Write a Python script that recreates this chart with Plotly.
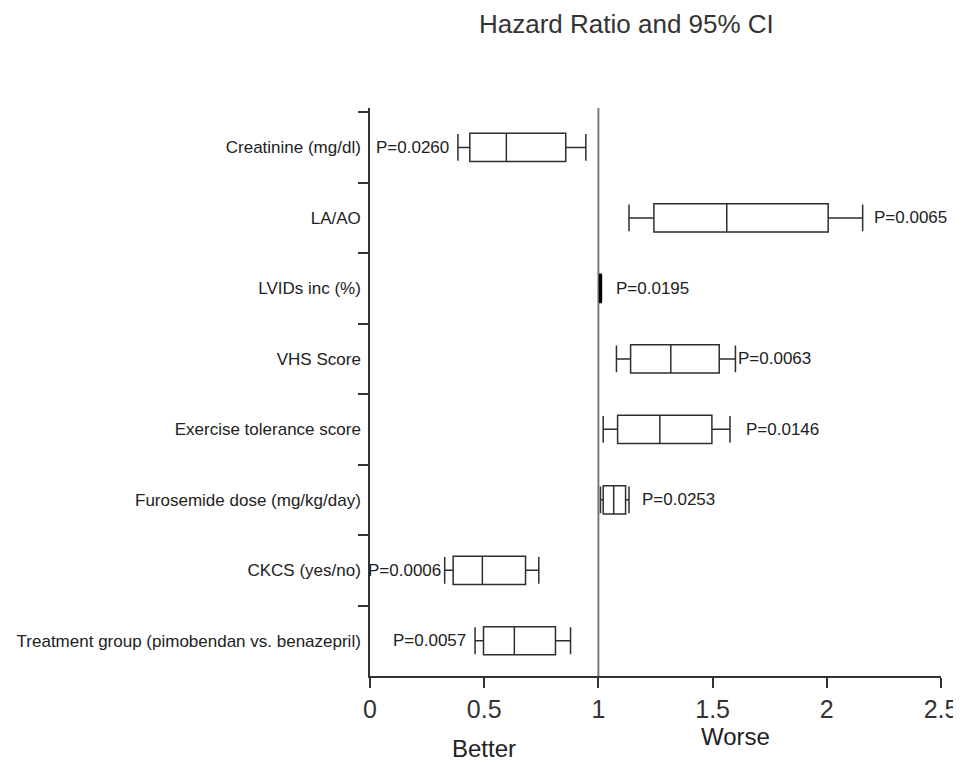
import plotly.graph_objects as go

categories = [
    "Creatinine (mg/dl)",
    "LA/AO",
    "LVIDs inc (%)",
    "VHS Score",
    "Exercise tolerance score",
    "Furosemide dose (mg/kg/day)",
    "CKCS (yes/no)",
    "Treatment group (pimobendan vs. benazepril)",
]
ci_low = [0.385, 1.134, 1.005, 1.079, 1.021, 1.009, 0.327, 0.460]
q1 = [0.437, 1.243, 1.006, 1.141, 1.084, 1.021, 0.364, 0.497]
median = [0.597, 1.562, 1.009, 1.317, 1.269, 1.067, 0.492, 0.632]
q3 = [0.857, 2.006, 1.012, 1.529, 1.497, 1.119, 0.681, 0.812]
ci_high = [0.945, 2.157, 1.013, 1.600, 1.576, 1.134, 0.739, 0.878]
p_values = ["P=0.0260", "P=0.0065", "P=0.0195", "P=0.0063",
            "P=0.0146", "P=0.0253", "P=0.0006", "P=0.0057"]
p_side = ["left", "right", "right", "right", "right", "right", "left", "left"]
p_shift = [-7, 9, 13, 1, 14, 11, -2, -7]
x_ticks = [0, 0.5, 1, 1.5, 2, 2.5]
x_ticklabels = ["0", "0.5", "1", "1.5", "2", "2.5"]

FONT = "Liberation Sans, Arial, sans-serif"

fig = go.Figure()
for i, cat in enumerate(categories):
    col = "#000000" if cat.startswith("LVIDs") else "#2e2e2e"
    fig.add_trace(go.Box(
        y=[cat], q1=[q1[i]], median=[median[i]], q3=[q3[i]],
        lowerfence=[ci_low[i]], upperfence=[ci_high[i]],
        orientation="h", width=0.4, whiskerwidth=0.95,
        fillcolor="white", line=dict(color=col, width=1.5 if i != 2 else 1.6),
        showlegend=False, hoverinfo="skip",
    ))

for i, cat in enumerate(categories):
    left = p_side[i] == "left"
    fig.add_annotation(x=ci_low[i] if left else ci_high[i], y=cat, xref="x", yref="y",
                       text=p_values[i], showarrow=False,
                       xanchor="right" if left else "left", yanchor="middle",
                       xshift=p_shift[i], font=dict(family=FONT, size=17, color="#222"))

fig.add_shape(type="line", xref="x", yref="paper", x0=1, x1=1, y0=0, y1=1,
              line=dict(color="#7a7a7a", width=2), layer="below")

fig.add_annotation(text="Hazard Ratio and 95% CI", xref="paper", yref="paper",
                   x=0.4498, y=1.148, showarrow=False, xanchor="center", yanchor="middle",
                   font=dict(family=FONT, size=26, color="#333"))
fig.add_annotation(text="Better", xref="x", yref="paper", x=0.5, y=-0.1285,
                   showarrow=False, xanchor="center", yanchor="middle",
                   font=dict(family=FONT, size=24, color="#222"))
fig.add_annotation(text="Worse", xref="x", yref="paper", x=1.6, y=-0.106,
                   showarrow=False, xanchor="center", yanchor="middle",
                   font=dict(family=FONT, size=24, color="#222"))

fig.update_layout(
    width=953, height=754,
    margin=dict(l=362, r=20, t=100, b=86),
    plot_bgcolor="white", paper_bgcolor="white",
    boxmode="overlay",
    xaxis=dict(range=[0, 2.5], tickvals=x_ticks, ticktext=x_ticklabels,
               showline=True, linecolor="#333", linewidth=1.5,
               ticks="outside", ticklen=10, tickwidth=1.5, tickcolor="#333",
               showgrid=False, zeroline=False, automargin=False,
               ticklabeloverflow="allow",
               tickfont=dict(family=FONT, size=25, color="#333")),
    yaxis=dict(type="category", categoryorder="array", categoryarray=categories,
               range=[7.5, -0.56], showline=True, linecolor="#333", linewidth=1.5,
               ticks="outside", tickson="boundaries", ticklen=10, tickwidth=1.5,
               tickcolor="#333", showgrid=False, zeroline=False, automargin=False,
               ticklabelstandoff=4,
               tickfont=dict(family=FONT, size=17, color="#222")),
)

fig.write_html("out.html")
